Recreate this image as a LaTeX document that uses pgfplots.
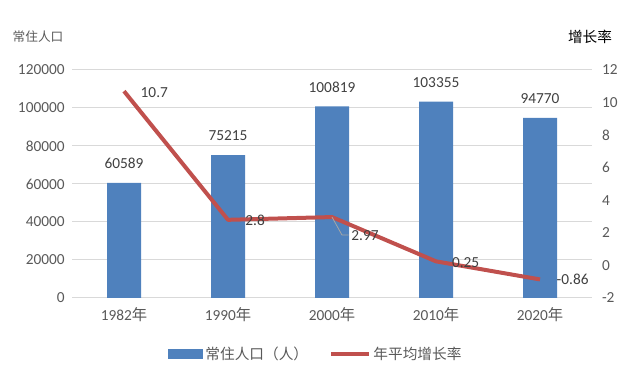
\documentclass[border=0pt]{standalone}
\usepackage{pgfplots}
\pgfplotsset{compat=1.18}
\usepackage{fontspec}
\setmainfont{Carlito}
\newfontfamily\cjk{Noto Sans CJK SC}
\definecolor{barblue}{HTML}{4F81BD}
\definecolor{linered}{HTML}{C0504D}
\definecolor{txtgray}{HTML}{595959}
\definecolor{lblgray}{HTML}{404040}
\definecolor{gridgray}{HTML}{D9D9D9}
\begin{document}
\begin{tikzpicture}
\path[use as bounding box] (0,0) rectangle (474.75pt,286.5pt);
\node[anchor=west, text=txtgray, font=\cjk\fontsize{9.5}{10}\selectfont] at (6pt,258.75pt) {常住人口};
\node[anchor=center, text=black, font=\cjk\fontsize{11}{12}\selectfont] at (442.5pt,258.5pt) {增长率};
\begin{axis}[
  at={(54pt,63pt)}, anchor=south west,
  scale only axis, width=390pt, height=171pt,
  xmin=-0.5, xmax=4.5, ymin=0, ymax=120000,
  xtick={0,1,2,3,4},
  xticklabels={1982{\cjk 年},1990{\cjk 年},2000{\cjk 年},2010{\cjk 年},2020{\cjk 年}},
  ytick={0,20000,40000,60000,80000,100000,120000},
  ymajorgrids, grid style={gridgray, line width=0.75pt},
  axis line style={draw=none},
  major tick length=0pt,
  scaled y ticks=false,
  /pgf/number format/assume math mode=true,
  /pgf/number format/fixed,
  /pgf/number format/1000 sep={},
  tick label style={font=\fontsize{11.5}{12}\selectfont, text=txtgray},
  xticklabel style={yshift=-4pt},
  yticklabel style={xshift=-2pt},
  clip=false,
]
\addplot[ybar, bar width=25.5pt, fill=barblue, draw=none,
  nodes near coords,
  nodes near coords style={font=\fontsize{11.5}{12}\selectfont, text=lblgray, anchor=south, yshift=7pt}]
  coordinates {(0,60589) (1,75215) (2,100819) (3,103355) (4,94770)};
\end{axis}
\begin{axis}[
  at={(54pt,63pt)}, anchor=south west,
  scale only axis, width=390pt, height=171pt,
  xmin=-0.5, xmax=4.5, ymin=-2, ymax=12,
  ytick={-2,0,2,4,6,8,10,12},
  axis y line*=right, axis x line=none,
  axis line style={draw=none},
  major tick length=0pt,
  /pgf/number format/assume math mode=true,
  tick label style={font=\fontsize{11.5}{12}\selectfont, text=txtgray},
  yticklabel style={xshift=4pt},
  clip=false,
  legend columns=2,
  legend style={at={(0.469,-0.2456)}, anchor=center, draw=none, fill=none,
    font=\cjk\fontsize{11}{12}\selectfont, text=txtgray,
    /tikz/every even column/.append style={column sep=14pt}},
]
\addlegendimage{legend image code/.code={\fill[barblue] (0pt,-3.5pt) rectangle (26pt,3.5pt);}}
\addlegendentry{常住人口（人）}
\addlegendimage{legend image code/.code={\draw[linered, line width=3pt] (0pt,0pt) -- (28pt,0pt);}}
\addlegendentry{年平均增长率}
\addplot[linered, line width=3pt, mark=none, line join=round, forget plot]
  coordinates {(0,10.7) (1,2.8) (2,2.97) (3,0.25) (4,-0.86)};
\draw[gray!70, line width=0.6pt] (axis cs:2,2.97) -- ++(7.5pt,-13.5pt) -- ++(5pt,0pt);
\begin{scope}[every node/.style={anchor=west, font=\fontsize{11.5}{12}\selectfont, text=lblgray}]
\node at (axis cs:0,10.7) [xshift=9pt, yshift=-1pt] {10.7};
\node at (axis cs:1,2.8) [xshift=9.5pt] {2.8};
\node at (axis cs:2,2.97) [xshift=11pt, yshift=-14pt] {2.97};
\node at (axis cs:3,0.25) [xshift=8.5pt, yshift=-1pt] {0.25};
\node at (axis cs:4,-0.86) [xshift=9pt] {-0.86};
\end{scope}
\end{axis}
\end{tikzpicture}
\end{document}
